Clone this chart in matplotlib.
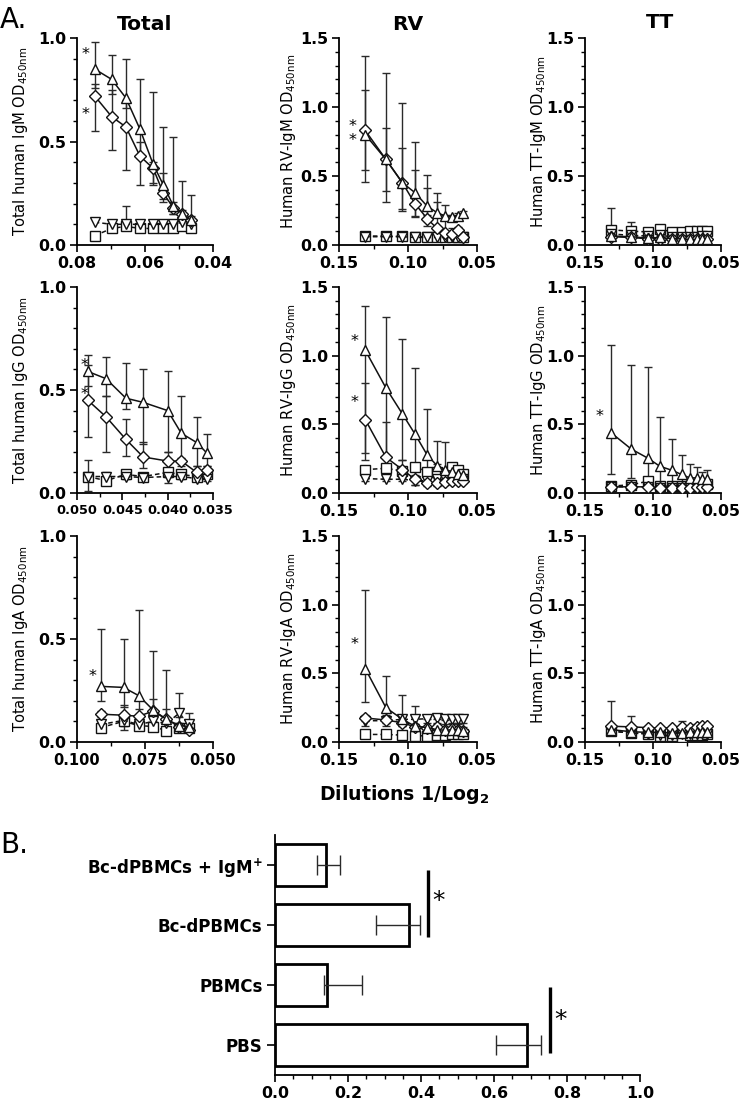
import numpy as np
import matplotlib
matplotlib.use('Agg')
import matplotlib.pyplot as plt
from matplotlib.ticker import MultipleLocator, FormatStrFormatter

plt.rcParams['font.family'] = ['DejaVu Sans']
plt.rcParams['mathtext.fontset'] = 'dejavusans'

W, H = 742, 1102

# x values (1/log2 dilution)
x_tot_igm = [0.0748, 0.0698, 0.0656, 0.0615, 0.0576, 0.0546, 0.0517, 0.0490, 0.0465]
x_tot_igg = [0.0488, 0.0468, 0.0446, 0.0427, 0.0400, 0.0385, 0.0368, 0.0357]
x_tot_iga = [0.0913, 0.0829, 0.0773, 0.0720, 0.0671, 0.0624, 0.0588]
x_ag = [0.131, 0.116, 0.104, 0.095, 0.086, 0.079, 0.073, 0.068, 0.064, 0.060]

# each series: (mean, lower cap, upper cap); caps None = no visible bar
tot_igm = {
    'up': ([0.85, 0.80, 0.71, 0.56, 0.39, 0.29, 0.19, 0.15, 0.12],
           [0.76, 0.73, 0.66, 0.42, 0.29, 0.22, 0.15, 0.12, 0.10],
           [0.98, 0.92, 0.90, 0.80, 0.74, 0.57, 0.52, 0.31, 0.24]),
    'dm': ([0.72, 0.62, 0.57, 0.43, 0.37, 0.25, 0.18, 0.15, 0.12],
           [0.55, 0.46, 0.36, 0.29, 0.30, 0.21, 0.15, 0.13, 0.10],
           [0.78, 0.75, 0.70, 0.50, 0.40, 0.35, 0.21, 0.17, 0.14]),
    'dn': ([0.11, 0.10, 0.10, 0.10, 0.10, 0.10, 0.10, 0.11, 0.10], None, None),
    'sq': ([0.045, 0.08, 0.09, 0.08, 0.08, 0.08, 0.08, 0.09, 0.08],
           [0.04, 0.07, 0.08, 0.07, 0.07, 0.07, 0.07, 0.08, 0.07],
           [0.05, 0.09, 0.19, 0.09, 0.09, 0.09, 0.10, 0.11, 0.09]),
}
tot_igg = {
    'up': ([0.59, 0.555, 0.46, 0.44, 0.40, 0.29, 0.245, 0.195],
           [0.52, 0.47, 0.41, 0.24, 0.20, 0.15, 0.13, 0.13],
           [0.67, 0.66, 0.63, 0.60, 0.59, 0.47, 0.37, 0.285]),
    'dm': ([0.45, 0.37, 0.26, 0.175, 0.155, 0.155, 0.10, 0.11],
           [0.27, 0.20, 0.18, 0.12, 0.12, 0.13, 0.08, 0.09],
           [0.62, 0.47, 0.36, 0.25, 0.20, 0.17, 0.13, 0.13]),
    'dn': ([0.08, 0.08, 0.08, 0.075, 0.08, 0.08, 0.07, 0.07],
           [0.01, 0.07, 0.07, 0.06, 0.05, 0.07, 0.06, 0.06],
           [0.16, 0.09, 0.09, 0.09, 0.11, 0.09, 0.08, 0.08]),
    'sq': ([0.08, 0.06, 0.09, 0.08, 0.10, 0.09, 0.08, 0.09],
           [0.07, 0.05, 0.08, 0.07, 0.08, 0.08, 0.07, 0.08],
           [0.09, 0.10, 0.10, 0.09, 0.12, 0.10, 0.09, 0.10]),
}
tot_iga = {
    'up': ([0.27, 0.265, 0.225, 0.155, 0.11, 0.08, 0.075],
           [0.20, 0.17, 0.10, 0.08, 0.07, 0.06, 0.06],
           [0.55, 0.50, 0.64, 0.44, 0.35, 0.24, 0.14]),
    'dm': ([0.135, 0.13, 0.125, 0.15, 0.11, 0.075, 0.06],
           [0.12, 0.11, 0.10, 0.12, 0.09, 0.06, 0.05],
           [0.15, 0.18, 0.16, 0.21, 0.16, 0.09, 0.07]),
    'dn': ([0.085, 0.105, 0.085, 0.10, 0.09, 0.14, 0.085],
           [0.07, 0.06, 0.06, 0.07, 0.07, 0.12, 0.07],
           [0.10, 0.12, 0.10, 0.12, 0.11, 0.15, 0.10]),
    'sq': ([0.07, 0.10, 0.08, 0.075, 0.055, 0.07, 0.07],
           [0.06, 0.08, 0.07, 0.06, 0.05, 0.06, 0.06],
           [0.08, 0.12, 0.10, 0.09, 0.06, 0.08, 0.08]),
}
rv_igm = {
    'up': ([0.80, 0.62, 0.45, 0.38, 0.28, 0.235, 0.21, 0.205, 0.21, 0.23],
           [0.54, 0.39, 0.26, 0.20, 0.22, 0.20, 0.19, 0.19, 0.19, 0.21],
           [1.12, 0.85, 0.70, 0.54, 0.41, 0.31, 0.29, 0.22, 0.23, 0.25]),
    'dm': ([0.83, 0.62, 0.45, 0.30, 0.19, 0.12, 0.085, 0.08, 0.11, 0.06],
           [0.46, 0.31, 0.25, 0.21, 0.14, 0.09, 0.07, 0.07, 0.09, 0.05],
           [1.37, 1.25, 1.03, 0.75, 0.51, 0.38, 0.22, 0.12, 0.13, 0.07]),
    'dn': ([0.06, 0.06, 0.06, 0.055, 0.055, 0.055, 0.055, 0.055, 0.055, 0.055], None, None),
    'sq': ([0.065, 0.065, 0.062, 0.06, 0.06, 0.06, 0.06, 0.06, 0.06, 0.06], None, None),
}
rv_igg = {
    'up': ([1.04, 0.765, 0.575, 0.43, 0.275, 0.20, 0.17, 0.155, 0.135, 0.13],
           [0.24, 0.26, 0.24, 0.10, 0.14, 0.12, 0.10, 0.09, 0.09, 0.09],
           [1.36, 1.28, 1.12, 0.91, 0.61, 0.38, 0.37, 0.21, 0.19, 0.17]),
    'dm': ([0.535, 0.26, 0.17, 0.10, 0.07, 0.07, 0.08, 0.085, 0.085, 0.09],
           [0.29, 0.10, 0.12, 0.06, 0.05, 0.05, 0.06, 0.07, 0.07, 0.07],
           [0.80, 0.52, 0.24, 0.13, 0.09, 0.09, 0.10, 0.10, 0.10, 0.11]),
    'dn': ([0.105, 0.10, 0.10, 0.09, 0.09, 0.10, 0.10, 0.11, 0.10, 0.10],
           [0.09, 0.09, 0.09, 0.06, 0.08, 0.09, 0.09, 0.10, 0.09, 0.09],
           [0.12, 0.11, 0.11, 0.11, 0.10, 0.11, 0.11, 0.12, 0.11, 0.11]),
    'sq': ([0.17, 0.18, 0.16, 0.19, 0.155, 0.155, 0.14, 0.19, 0.17, 0.14],
           [0.15, 0.16, 0.14, 0.17, 0.14, 0.13, 0.12, 0.17, 0.15, 0.12],
           [0.19, 0.20, 0.18, 0.21, 0.17, 0.21, 0.16, 0.21, 0.20, 0.16]),
}
rv_iga = {
    'up': ([0.535, 0.25, 0.165, 0.115, 0.105, 0.09, 0.085, 0.09, 0.09, 0.08],
           [0.29, 0.20, 0.12, 0.08, 0.07, 0.07, 0.07, 0.07, 0.07, 0.06],
           [1.11, 0.48, 0.345, 0.26, 0.17, 0.17, 0.16, 0.14, 0.13, 0.11]),
    'dm': ([0.175, 0.16, 0.14, 0.11, 0.105, 0.11, 0.09, 0.095, 0.09, 0.08],
           [0.15, 0.14, 0.12, 0.09, 0.09, 0.09, 0.08, 0.08, 0.08, 0.07],
           [0.20, 0.18, 0.16, 0.13, 0.12, 0.13, 0.10, 0.11, 0.10, 0.09]),
    'dn': ([0.155, 0.155, 0.165, 0.165, 0.17, 0.175, 0.165, 0.165, 0.17, 0.17],
           [0.12, 0.12, 0.13, 0.13, 0.14, 0.14, 0.13, 0.13, 0.14, 0.14],
           [0.17, 0.17, 0.18, 0.18, 0.18, 0.19, 0.18, 0.18, 0.18, 0.18]),
    'sq': ([0.055, 0.055, 0.05, 0.045, 0.045, 0.05, 0.05, 0.055, 0.055, 0.055], None, None),
}
tt_igm = {
    'up': ([0.065, 0.06, 0.05, 0.055, 0.045, 0.045, 0.04, 0.04, 0.04, 0.04], None, None),
    'dm': ([0.06, 0.055, 0.045, 0.045, 0.04, 0.04, 0.04, 0.04, 0.04, 0.04], None, None),
    'dn': ([0.08, 0.07, 0.065, 0.07, 0.06, 0.06, 0.06, 0.06, 0.065, 0.065], None, None),
    'sq': ([0.11, 0.10, 0.095, 0.115, 0.095, 0.095, 0.10, 0.10, 0.10, 0.105],
           [0.10, 0.09, 0.085, 0.10, 0.085, 0.085, 0.09, 0.09, 0.09, 0.095],
           [0.27, 0.17, 0.11, 0.13, 0.11, 0.11, 0.12, 0.12, 0.12, 0.12]),
}
tt_igg = {
    'up': ([0.44, 0.32, 0.255, 0.195, 0.165, 0.135, 0.11, 0.11, 0.105, 0.10],
           [0.14, 0.11, 0.10, 0.08, 0.07, 0.06, 0.06, 0.06, 0.06, 0.06],
           [1.08, 0.93, 0.92, 0.55, 0.395, 0.275, 0.21, 0.19, 0.15, 0.165]),
    'dm': ([0.045, 0.045, 0.045, 0.04, 0.04, 0.04, 0.04, 0.045, 0.045, 0.045], None, None),
    'dn': ([0.045, 0.045, 0.045, 0.04, 0.04, 0.04, 0.04, 0.04, 0.045, 0.045], None, None),
    'sq': ([0.05, 0.06, 0.085, 0.05, 0.05, 0.05, 0.05, 0.06, 0.06, 0.065],
           [0.045, 0.05, 0.07, 0.045, 0.045, 0.045, 0.045, 0.05, 0.05, 0.05],
           [0.06, 0.07, 0.10, 0.06, 0.06, 0.06, 0.06, 0.08, 0.08, 0.09]),
}
tt_iga = {
    'up': ([0.09, 0.075, 0.07, 0.07, 0.065, 0.065, 0.07, 0.07, 0.075, 0.07], None, None),
    'dm': ([0.115, 0.11, 0.105, 0.10, 0.105, 0.11, 0.105, 0.11, 0.115, 0.115],
           [0.10, 0.10, 0.095, 0.09, 0.095, 0.10, 0.095, 0.10, 0.105, 0.105],
           [0.30, 0.19, 0.12, 0.11, 0.12, 0.15, 0.12, 0.13, 0.13, 0.13]),
    'dn': ([0.08, 0.065, 0.06, 0.05, 0.05, 0.055, 0.06, 0.06, 0.065, 0.06], None, None),
    'sq': ([0.08, 0.065, 0.06, 0.045, 0.045, 0.04, 0.05, 0.05, 0.05, 0.055], None, None),
}

# panel B
groups = ['PBS', 'PBMCs', 'Bc-dPBMCs', 'Bc-dPBMCs + IgM$^{\\mathbf{+}}$']
bar_mean = [0.69, 0.143, 0.367, 0.14]
bar_lo = [0.605, 0.134, 0.277, 0.114]
bar_hi = [0.729, 0.237, 0.397, 0.177]

fig = plt.figure(figsize=(7.42, 11.02), dpi=100)


def add_ax(left, top, right, bottom):
    return fig.add_axes([left / W, 1 - bottom / H, (right - left) / W, (bottom - top) / H])


def style_ax(ax):
    for s in ['top', 'right']:
        ax.spines[s].set_visible(False)
    for s in ['left', 'bottom']:
        ax.spines[s].set_linewidth(1.3)
    ax.tick_params(which='major', length=5, width=1.2, labelsize=11.4, pad=3)
    ax.tick_params(which='minor', length=3, width=1.0)


markers = {'sq': ('s', True, 6.5), 'dn': ('v', True, 7.5), 'dm': ('D', False, 6), 'up': ('^', False, 7.5)}

cols = [(77, 213), (339, 477), (585, 721)]
rows = [(38, 245), (287, 493), (536, 742)]
lab_x = [-0.345, -0.30, -0.275]
sub = 'OD$_{\\mathrm{450nm}}$'

# row, col, x, data, ylabel, ymax, xlim, major, minor, format, x label size, stars
panels = [
    (0, 0, x_tot_igm, tot_igm, 'Total human IgM ', 1.0, (0.08, 0.04), 0.02, 0.01, '%.2f', 11.4,
     [(0.0776, 0.92), (0.0776, 0.63)]),
    (0, 1, x_ag, rv_igm, 'Human RV-IgM ', 1.5, (0.15, 0.05), 0.05, 0.025, '%.2f', 11.4,
     [(0.140, 0.86), (0.140, 0.76)]),
    (0, 2, x_ag, tt_igm, 'Human TT-IgM ', 1.5, (0.15, 0.05), 0.05, 0.025, '%.2f', 11.4, []),
    (1, 0, x_tot_igg, tot_igg, 'Total human IgG ', 1.0, (0.05, 0.035), 0.005, 0.0025, '%.3f', 9.3,
     [(0.0492, 0.62), (0.0492, 0.48)]),
    (1, 1, x_ag, rv_igg, 'Human RV-IgG ', 1.5, (0.15, 0.05), 0.05, 0.025, '%.2f', 11.4,
     [(0.139, 1.10), (0.139, 0.66)]),
    (1, 2, x_ag, tt_igg, 'Human TT-IgG ', 1.5, (0.15, 0.05), 0.05, 0.025, '%.2f', 11.4,
     [(0.139, 0.56)]),
    (2, 0, x_tot_iga, tot_iga, 'Total human IgA ', 1.0, (0.10, 0.05), 0.025, 0.0125, '%.3f', 10.5,
     [(0.0944, 0.32)]),
    (2, 1, x_ag, rv_iga, 'Human RV-IgA ', 1.5, (0.15, 0.05), 0.05, 0.025, '%.2f', 11.4,
     [(0.139, 0.71)]),
    (2, 2, x_ag, tt_iga, 'Human TT-IgA ', 1.5, (0.15, 0.05), 0.05, 0.025, '%.2f', 11.4, []),
]

for r, c, x, data, ylab, ymax, xlim, xmaj, xmin, fmt, xfs, stars in panels:
    ax = add_ax(cols[c][0], rows[r][0], cols[c][1], rows[r][1])
    style_ax(ax)
    for key in ['sq', 'dn', 'dm', 'up']:
        y, lo, hi = data[key]
        mk, dashed, ms = markers[key]
        y = np.array(y)
        if lo is not None:
            err = [np.clip(y - np.array(lo), 0, None), np.clip(np.array(hi) - y, 0, None)]
            ax.errorbar(x, y, yerr=err, fmt='none', ecolor='#2a2a2a', elinewidth=1.0,
                        capsize=3.2, capthick=1.0, zorder=2)
        ax.plot(x, y, color='#111111', lw=1.1, ls=(0, (3, 2)) if dashed else '-',
                marker=mk, ms=ms, mfc='white', mec='#111111', mew=1.0, zorder=3)
    for sx, sy in stars:
        ax.text(sx, sy, '*', ha='center', va='center', fontsize=11.5)
    ax.set_xlim(*xlim)
    ax.set_ylim(0, ymax)
    ax.xaxis.set_major_locator(MultipleLocator(xmaj))
    ax.xaxis.set_minor_locator(MultipleLocator(xmin))
    ax.xaxis.set_major_formatter(FormatStrFormatter(fmt))
    ax.tick_params(axis='x', labelsize=xfs)
    ax.yaxis.set_major_locator(MultipleLocator(0.5))
    ax.yaxis.set_minor_locator(MultipleLocator(0.1))
    ax.yaxis.set_major_formatter(FormatStrFormatter('%.1f'))
    for lbl in ax.get_xticklabels() + ax.get_yticklabels():
        lbl.set_fontweight('bold')
    ax.set_ylabel(ylab + sub, fontsize=10.6)
    ax.yaxis.set_label_coords(lab_x[c], 0.5)

fig.text(0.0, 1 - 20 / H, 'A.', fontsize=20, ha='left', va='center')
fig.text(145 / W, 1 - 24 / H, 'Total', fontsize=14.6, fontweight='bold', ha='center', va='center')
fig.text(408 / W, 1 - 24 / H, 'RV', fontsize=14.6, fontweight='bold', ha='center', va='center')
fig.text(660 / W, 1 - 23 / H, 'TT', fontsize=14.6, fontweight='bold', ha='center', va='center')
fig.text(404 / W, 1 - 794 / H, 'Dilutions 1/Log$_{\\mathbf{2}}$', fontsize=13.6,
         fontweight='bold', ha='center', va='center')
fig.text(0.0, 1 - 845 / H, 'B.', fontsize=20, ha='left', va='center')

# panel B bars
axb = add_ax(275, 835, 640, 1075)
style_ax(axb)
pos = np.arange(len(groups))
mean = np.array(bar_mean)
axb.barh(pos, mean, height=0.7, color='white', edgecolor='black', linewidth=2.0, zorder=2)
axb.errorbar(mean, pos, xerr=[mean - np.array(bar_lo), np.array(bar_hi) - mean], fmt='none',
             ecolor='#2a2a2a', elinewidth=1.0, capsize=7, capthick=1.0, zorder=3)
axb.set_xlim(0, 1.0)
axb.set_ylim(-0.5, 3.5)
axb.xaxis.set_major_locator(MultipleLocator(0.2))
axb.xaxis.set_minor_locator(MultipleLocator(0.05))
axb.xaxis.set_major_formatter(FormatStrFormatter('%.1f'))
axb.set_yticks(pos)
axb.set_yticklabels(groups, fontsize=12)
axb.tick_params(axis='y', length=6)
for lbl in axb.get_xticklabels() + axb.get_yticklabels():
    lbl.set_fontweight('bold')

# significance marks
axb.plot([0.42, 0.42], [1.80, 2.92], color='black', lw=2.4, solid_capstyle='butt', clip_on=False)
axb.text(0.447, 2.40, '*', fontsize=18, ha='center', va='center')
axb.plot([0.754, 0.754], [-0.13, 0.97], color='black', lw=2.4, solid_capstyle='butt', clip_on=False)
axb.text(0.782, 0.42, '*', fontsize=18, ha='center', va='center')

fig.savefig('out.png', dpi=100)
